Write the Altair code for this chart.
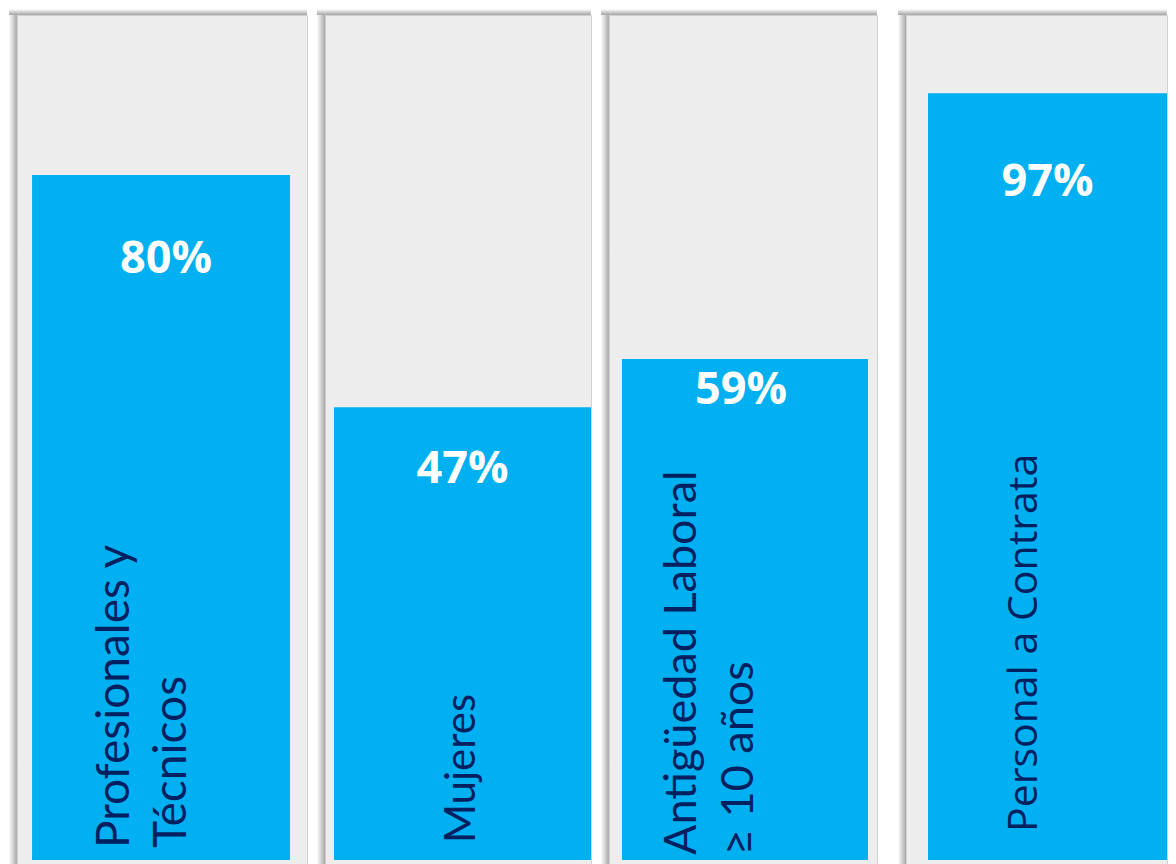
import altair as alt
import pandas as pd

# ---- data ----
categories = ["Profesionales y\nTécnicos", "Mujeres", "Antigüedad Laboral\n≥ 10 años", "Personal a Contrata"]
values = [80, 47, 59, 97]
labels = ["80%", "47%", "59%", "97%"]

# ---- per-panel styling ----
panel_widths = [290, 266, 268, 261]
gaps = [18, 18, 29]
scale_tops = [98.7, 87.7, 99.5, 106.9]
band_pad = [0.062, 0.0175, 0.0447, 0.046]
band_align = [0.47, 1.0, 0.59, 1.0]
pct_dx = [5, 0, -4, 0]
pct_dy = [84, 62, 31, 89]
cat_dx = [12, 17, 5, 28]
cat_dy = [-46, 0, -63, -22]
cat_font = ["Lato", "Lato", "Lato", "Open Sans"]
cat_size = [46, 42, 45, 41]
H = 852
BLUE = "#00B0F0"
NAVY = "#002060"
PANEL = "#EDEDED"

shadow_left = alt.Gradient(
    gradient="linear", x1=0, x2=1, y1=0, y2=0,
    stops=[alt.GradientStop(color="#FFFFFF", offset=0),
           alt.GradientStop(color="#A8A8A8", offset=1)])
shadow_top = alt.Gradient(
    gradient="linear", x1=0, x2=0, y1=0, y2=1,
    stops=[alt.GradientStop(color="#FFFFFF", offset=0),
           alt.GradientStop(color="#A4A4A4", offset=1)])


def panel(i):
    df = pd.DataFrame({"name": [categories[i]], "value": [values[i]], "label": [labels[i]]})
    top = scale_tops[i]
    yscale = alt.Scale(domain=[-top * 7 / (H - 7), top], nice=False, zero=False)
    xscale = alt.Scale(paddingInner=0, paddingOuter=band_pad[i], align=band_align[i])
    base = alt.Chart(df).encode(x=alt.X("name:N", axis=None, scale=xscale))
    sh_l = alt.Chart(df).mark_rect(fill=shadow_left).encode(
        x=alt.value(-8), x2=alt.value(0), y=alt.value(-6), y2=alt.value(H))
    sh_t = alt.Chart(df).mark_rect(fill=shadow_top).encode(
        x=alt.value(-8), x2=alt.value(panel_widths[i]), y=alt.value(-6), y2=alt.value(0))
    bar = base.mark_bar(color=BLUE).encode(
        y=alt.Y("value:Q", axis=None, scale=yscale), y2=alt.datum(0))
    pct = base.mark_text(color="white", font="Open Sans", fontWeight="bold", fontSize=45,
                         baseline="middle", align="center", dx=pct_dx[i], dy=pct_dy[i]).encode(
        y=alt.Y("value:Q", axis=None, scale=yscale), text="label:N")
    cat = base.mark_text(color=NAVY, font=cat_font[i], fontSize=cat_size[i], angle=270,
                         align="left", baseline="middle", lineBreak="\n", lineHeight=57,
                         dx=cat_dx[i], dy=cat_dy[i]).encode(
        y=alt.datum(0), text="name:N")
    return alt.layer(sh_l, sh_t, bar, pct, cat).properties(width=panel_widths[i], height=H)


def spacer(w):
    df = pd.DataFrame({"v": [0]})
    return alt.Chart(df).mark_point(opacity=0).encode(
        x=alt.value(0), y=alt.value(0)
    ).properties(width=w, height=H, view=alt.ViewBackground(fill=None, stroke=None))


parts = []
for i in range(4):
    parts.append(panel(i))
    if i < 3:
        parts.append(spacer(gaps[i]))

chart = alt.hconcat(*parts, spacing=0, bounds="flush").properties(
    padding=0, background="white"
).configure_view(fill=PANEL, stroke="#D0D0D0", strokeWidth=1)

chart.save("out.html", embed_options={"renderer": "svg", "actions": False})
